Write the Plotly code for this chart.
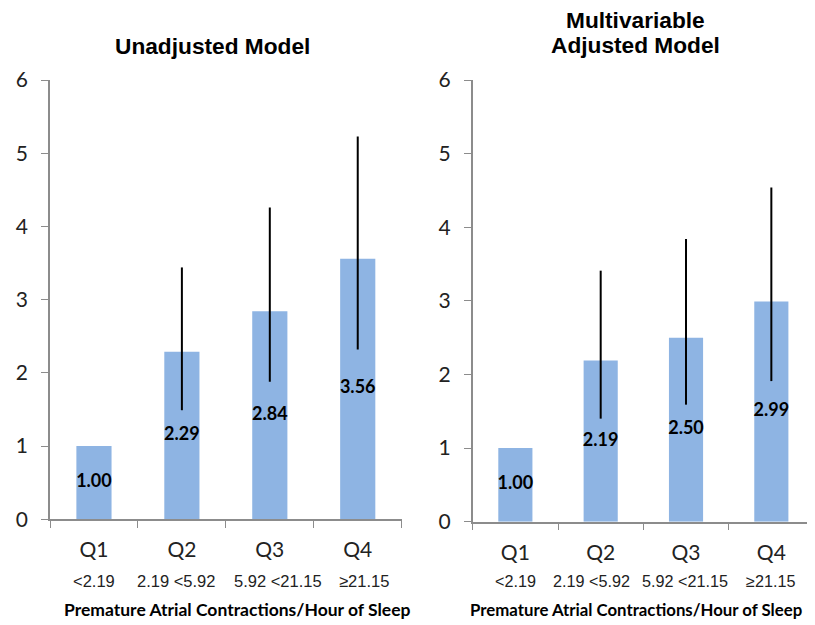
import plotly.graph_objects as go

categories = ["Q1", "Q2", "Q3", "Q4"]
range_labels = ["&lt;2.19", "2.19 &lt;5.92", "5.92 &lt;21.15", "≥21.15"]

unadj_values = [1.00, 2.29, 2.84, 3.56]
unadj_upper = [1.00, 3.44, 4.26, 5.23]
unadj_lower = [1.00, 1.49, 1.88, 2.32]

adj_values = [1.00, 2.19, 2.50, 2.99]
adj_upper = [1.00, 3.41, 3.84, 4.54]
adj_lower = [1.00, 1.40, 1.59, 1.91]

title_left = "Unadjusted Model"
title_right_lines = ["Multivariable", "Adjusted Model"]
x_title = "Premature Atrial Contractions/Hour of Sleep"

BAR = "#8EB4E3"
AXIS = "#8c8c8c"
W, H, OFF = 815, 625, 8  # page body margin offsets the figure by 8px


def px_x(p):
    return (p - OFF) / W


def px_y(p):
    return 1 - (p - OFF) / H


fig = go.Figure()

panels = [
    (unadj_values, unadj_upper, unadj_lower, "x", "y"),
    (adj_values, adj_upper, adj_lower, "x2", "y2"),
]
for vals, up, lo, xa, ya in panels:
    fig.add_trace(go.Bar(
        x=categories, y=vals, width=0.4, marker=dict(color=BAR, line=dict(width=0)),
        error_y=dict(type="data", symmetric=False,
                     array=[u - v for u, v in zip(up, vals)],
                     arrayminus=[v - l for v, l in zip(vals, lo)],
                     color="black", thickness=2, width=0),
        xaxis=xa, yaxis=ya, showlegend=False, hoverinfo="skip"))
    fig.add_trace(go.Scatter(
        x=categories, y=[v / 2 for v in vals], mode="text",
        text=[f"{v:.2f}" for v in vals],
        textfont=dict(family="Lato", size=18, color="black", weight="bold"),
        xaxis=xa, yaxis=ya, showlegend=False, hoverinfo="skip"))

xcommon = dict(type="category", range=[-0.5, 3.5], showline=True, linecolor=AXIS,
               linewidth=1.5, ticks="outside", tickson="boundaries", ticklen=7,
               tickcolor=AXIS, showgrid=False, zeroline=False, automargin=False,
               tickfont=dict(family="Lato", size=21, color="#222"),
               ticklabelstandoff=11, fixedrange=True)
ycommon = dict(range=[0, 6], dtick=1, showline=True, linecolor=AXIS, linewidth=1.5,
               ticks="outside", ticklen=7, tickcolor=AXIS, showgrid=False, automargin=False,
               zeroline=False, tickfont=dict(family="Lato", size=21, color="#222"),
               ticklabelstandoff=9, fixedrange=True)

fig.update_layout(
    width=W, height=H, margin=dict(l=0, r=0, t=0, b=0, autoexpand=False),
    paper_bgcolor="white", plot_bgcolor="white",
    xaxis=dict(domain=[px_x(50), px_x(401.7)], anchor="y", **xcommon),
    yaxis=dict(domain=[px_y(519.3), px_y(80)], anchor="x", **ycommon),
    xaxis2=dict(domain=[px_x(472.7), px_x(814)], anchor="y2", **xcommon),
    yaxis2=dict(domain=[px_y(521.7), px_y(80)], anchor="x2", **ycommon),
)

annotations = []
annotations.append(dict(text="<b>" + title_left + "</b>", xref="paper", yref="paper",
                        x=px_x(212.5), y=px_y(45.5), xanchor="center", yanchor="middle",
                        showarrow=False, font=dict(family="Liberation Sans", size=22.7, color="black")))
for line, yc in zip(title_right_lines, (20, 45)):
    annotations.append(dict(text="<b>" + line + "</b>", xref="paper", yref="paper",
                            x=px_x(635), y=px_y(yc), xanchor="center", yanchor="middle",
                            borderpad=0,
                            showarrow=False, font=dict(family="Liberation Sans", size=22.7, color="black")))
panel_text = [
    ("x", 238, 17.5, 16.5, [0, -6, 8, 6]),
    ("x2", 636, 16.8, 16.2, [0, -9, -1, -1]),
]
for xa, xt_center, tsize, rsize, shifts in panel_text:
    for c, r, s in zip(categories, range_labels, shifts):
        annotations.append(dict(text=r, xref=xa, yref="paper", x=c, y=px_y(581), xshift=s,
                                xanchor="center", yanchor="middle", showarrow=False,
                                font=dict(family="Liberation Sans", size=rsize, color="#222")))
    annotations.append(dict(text="<b>" + x_title + "</b>", xref="paper", yref="paper",
                            x=px_x(xt_center), y=px_y(609), xanchor="center", yanchor="middle",
                            showarrow=False, font=dict(family="Lato", size=tsize, color="black")))
fig.update_layout(annotations=annotations)

fig.write_html("out.html")
